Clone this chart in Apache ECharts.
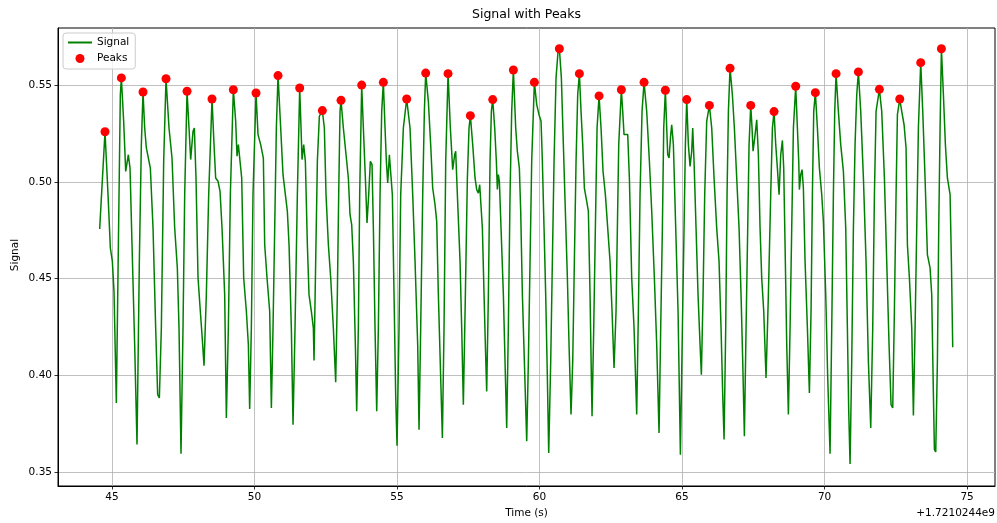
<!DOCTYPE html>
<html>
<head>
<meta charset="utf-8">
<title>Signal with Peaks</title>
<script src="https://cdn.jsdelivr.net/npm/echarts@6/dist/echarts.min.js"></script>
<style>
  html, body { margin: 0; padding: 0; background: #fff; }
  #chart { width: 997px; height: 523px; }
</style>
</head>
<body>
<div id="chart"></div>
<script>
// Time in seconds, relative to the offset shown under the x axis
const timeOffsetLabel = '+1.7210244e9';

const time = [
  44.567, 44.754, 44.860, 44.942, 45.012, 45.070, 45.152, 45.246, 45.292, 45.328,
  45.409, 45.480, 45.573, 45.632, 45.702, 45.795, 45.877, 45.959, 46.029, 46.088,
  46.146, 46.205, 46.275, 46.345, 46.439, 46.532, 46.602, 46.661, 46.731, 46.813,
  46.895, 47.000, 47.105, 47.199, 47.292, 47.351, 47.421, 47.491, 47.550, 47.632,
  47.702, 47.760, 47.842, 47.889, 47.947, 48.018, 48.099, 48.181, 48.228, 48.310,
  48.392, 48.509, 48.579, 48.637, 48.719, 48.790, 48.860, 48.953, 49.012, 49.082,
  49.152, 49.257, 49.339, 49.386, 49.433, 49.480, 49.550, 49.620, 49.714, 49.784,
  49.830, 49.889, 49.947, 50.053, 50.123, 50.216, 50.310, 50.357, 50.439, 50.532,
  50.591, 50.649, 50.708, 50.766, 50.825, 50.918, 51.000, 51.082, 51.152, 51.211,
  51.292, 51.351,
  51.421, 51.503, 51.585, 51.632, 51.667, 51.725, 51.784, 51.854, 51.912, 51.994,
  52.064, 52.088, 52.146, 52.205, 52.275, 52.380, 52.450, 52.509, 52.591, 52.673,
  52.766, 52.848, 52.906, 52.953, 53.000, 53.035, 53.117, 53.211, 53.292, 53.351,
  53.409, 53.468, 53.538, 53.585, 53.643, 53.690, 53.760, 53.819, 53.889, 53.947,
  54.006, 54.064, 54.123, 54.170, 54.228, 54.287, 54.345, 54.404, 54.462, 54.520,
  54.579, 54.626, 54.673, 54.731, 54.778, 54.836, 54.895, 54.953, 55.000, 55.070,
  55.129, 55.222, 55.339, 55.456, 55.550, 55.632, 55.725, 55.772, 55.830, 55.901,
  55.959, 56.006, 56.099, 56.181, 56.251, 56.333, 56.392, 56.450, 56.532, 56.591,
  56.649, 56.708, 56.790, 56.871, 56.953, 57.023, 57.058, 57.117, 57.211, 57.269,
  57.327, 57.398, 57.468, 57.526, 57.573, 57.655, 57.737, 57.795, 57.854, 57.901,
  57.936, 57.994, 58.053, 58.099, 58.146, 58.205, 58.263, 58.310, 58.357, 58.427,
  58.485, 58.520, 58.556, 58.591, 58.649, 58.731, 58.789, 58.848, 58.906, 58.965,
  59.023, 59.082, 59.164, 59.222, 59.292, 59.339, 59.398, 59.468, 59.550,
  59.608, 59.667, 59.725, 59.819, 59.901, 59.982, 60.053, 60.099, 60.158, 60.216,
  60.275, 60.322, 60.392, 60.450, 60.509, 60.579, 60.650, 60.696, 60.766, 60.836,
  60.906, 60.977, 61.035, 61.105, 61.164, 61.222, 61.281, 61.339, 61.398, 61.456,
  61.515, 61.573, 61.655, 61.713, 61.772, 61.819, 61.842, 61.901, 61.959, 62.018,
  62.088, 62.158, 62.228, 62.310, 62.392, 62.474, 62.544, 62.614, 62.684, 62.731,
  62.778, 62.871, 62.918, 62.965, 63.035, 63.094, 63.152, 63.234, 63.316, 63.409,
  63.468, 63.526, 63.596, 63.667, 63.760, 63.854, 63.936, 64.029, 64.111, 64.193,
  64.251, 64.310, 64.357, 64.415, 64.462, 64.497, 64.544, 64.602, 64.637, 64.696,
  64.778, 64.860, 64.942, 65.012, 65.070, 65.117, 65.164, 65.222, 65.281, 65.339,
  65.374, 65.421, 65.491, 65.561, 65.632, 65.678, 65.737, 65.795, 65.865, 65.959,
  66.041, 66.123, 66.216, 66.298, 66.368, 66.427, 66.474, 66.532, 66.579, 66.626,
  66.684, 66.766, 66.836, 66.918, 67.000, 67.070, 67.129, 67.187, 67.246, 67.304,
  67.351, 67.410, 67.456, 67.491, 67.550, 67.620,
  67.678, 67.737, 67.795, 67.866, 67.947, 68.029, 68.111, 68.170, 68.228, 68.287,
  68.345, 68.404, 68.462, 68.521, 68.567, 68.614, 68.673, 68.731, 68.790, 68.848,
  68.907, 68.988, 69.047, 69.094, 69.117, 69.164, 69.211, 69.257, 69.316, 69.398,
  69.468, 69.526, 69.573, 69.620, 69.678, 69.749, 69.819, 69.901, 69.959, 70.041,
  70.111, 70.193, 70.252, 70.310, 70.357, 70.404, 70.485, 70.567, 70.661, 70.743,
  70.801, 70.848, 70.895, 70.953, 71.012, 71.070, 71.129, 71.187, 71.269, 71.363,
  71.456, 71.538, 71.620, 71.690, 71.749, 71.807, 71.924, 72.006, 72.100, 72.181,
  72.263, 72.333, 72.392, 72.450, 72.509, 72.556, 72.638, 72.708, 72.790, 72.860,
  72.907, 72.977, 73.059, 73.117, 73.176, 73.234, 73.292, 73.374, 73.445, 73.526,
  73.608, 73.702, 73.760, 73.819, 73.854, 73.901, 73.959, 74.006, 74.053, 74.100,
  74.170, 74.240, 74.310, 74.404, 74.450, 74.497
];

const signal = [
  0.4756, 0.5259, 0.4934, 0.4658, 0.4589, 0.4434, 0.3857, 0.4934, 0.5450, 0.5537,
  0.5313, 0.5054, 0.5140, 0.5071, 0.4675, 0.4158, 0.3642, 0.4589, 0.5192, 0.5464,
  0.5278, 0.5175, 0.5175, 0.5071, 0.4761, 0.4244, 0.3900, 0.3883, 0.4244, 0.5106,
  0.5533, 0.5278, 0.5123, 0.4761, 0.4555, 0.4244, 0.3595, 0.4244, 0.4934, 0.5468,
  0.5278, 0.5115, 0.5261, 0.5278, 0.5020, 0.4503, 0.4331, 0.4158, 0.4050, 0.4417,
  0.4934, 0.5428, 0.5192, 0.5020, 0.5003, 0.4951, 0.4761, 0.4417, 0.3779, 0.4244,
  0.4934, 0.5476, 0.5313, 0.5132, 0.5192, 0.5201, 0.5020, 0.4503, 0.4331, 0.4158,
  0.3826, 0.4244, 0.4934, 0.5459, 0.5244, 0.5192, 0.5123, 0.4675, 0.4503, 0.4331,
  0.3831, 0.4244, 0.4761, 0.5278, 0.5549, 0.5278, 0.5037, 0.4934, 0.4848, 0.4675,
  0.4244, 0.3745,
  0.4245, 0.4934, 0.5485, 0.5278, 0.5115, 0.5192, 0.5106, 0.4675, 0.4417, 0.4331,
  0.4245, 0.4077, 0.4589, 0.5106, 0.5339, 0.5368, 0.5278, 0.4934, 0.4675, 0.4503,
  0.4245, 0.3964, 0.4417, 0.4934, 0.5364, 0.5421, 0.5278, 0.5140, 0.5020, 0.4830,
  0.4779, 0.4589, 0.4158, 0.3814, 0.4245, 0.4934, 0.5500, 0.5278, 0.5020, 0.4787,
  0.4934, 0.5106, 0.5089, 0.4761, 0.4245, 0.3814, 0.4245, 0.4934, 0.5364, 0.5514,
  0.5278, 0.5106, 0.4994, 0.5140, 0.5140, 0.4934, 0.4417, 0.3900, 0.3636, 0.4245,
  0.4934, 0.5278, 0.5428, 0.5278, 0.4934, 0.4589, 0.4158, 0.3719, 0.4245, 0.4934,
  0.5364, 0.5562, 0.5416, 0.5192, 0.4968, 0.4882, 0.4796, 0.4417, 0.3986, 0.3676,
  0.4245, 0.5106, 0.5559, 0.5278, 0.5063, 0.5140, 0.5158, 0.4934, 0.4589, 0.4245,
  0.3848, 0.4417, 0.5020, 0.5278, 0.5342, 0.5192, 0.5020, 0.4960, 0.4942, 0.4985,
  0.4994, 0.4761, 0.4417, 0.4158, 0.3917, 0.4417, 0.5106, 0.5364, 0.5425, 0.5278,
  0.5106, 0.4960, 0.5037, 0.5003, 0.4761, 0.4417, 0.4072, 0.3728, 0.4245, 0.4934,
  0.5364, 0.5578, 0.5278, 0.5158, 0.5071, 0.4848, 0.4417, 0.4072, 0.3659,
  0.4072, 0.4589, 0.5106, 0.5514, 0.5399, 0.5347, 0.5313, 0.5106, 0.4761, 0.4417,
  0.3986, 0.3599, 0.4072, 0.4589, 0.5106, 0.5537, 0.5675, 0.5688, 0.5537, 0.5192,
  0.4848, 0.4503, 0.4158, 0.3797, 0.4072, 0.4589, 0.5106, 0.5450, 0.5559, 0.5364,
  0.5192, 0.4968, 0.4899, 0.4848, 0.4417, 0.3986, 0.3788, 0.4245, 0.4761, 0.5278,
  0.5444, 0.5278, 0.5054, 0.4934, 0.4761, 0.4589, 0.4331, 0.4038, 0.4331, 0.4761,
  0.5192, 0.5476, 0.5364, 0.5244, 0.5252, 0.5244, 0.5020, 0.4503, 0.4245, 0.3797,
  0.4331, 0.4934, 0.5364, 0.5514, 0.5364, 0.5106, 0.4848, 0.4503, 0.4158, 0.3702,
  0.4245, 0.4761, 0.5278, 0.5473, 0.5278, 0.5140, 0.5123, 0.5244, 0.5295, 0.5192,
  0.4761, 0.4331, 0.3590, 0.4245, 0.4761, 0.5192, 0.5425, 0.5192, 0.5080, 0.5158,
  0.5278, 0.5106, 0.4761, 0.4417, 0.4158, 0.4003, 0.4417, 0.4934, 0.5313, 0.5395,
  0.5278, 0.5020, 0.4761, 0.4589, 0.4245, 0.3900, 0.3668, 0.4245, 0.4934, 0.5364,
  0.5587, 0.5450, 0.5278, 0.5020, 0.4761, 0.4417, 0.4072, 0.3685, 0.4245, 0.4761,
  0.5192, 0.5395, 0.5278, 0.5158, 0.5227, 0.5321,
  0.5140, 0.4761, 0.4503, 0.4331, 0.3986, 0.4417, 0.4934, 0.5278, 0.5363, 0.5192,
  0.5071, 0.4934, 0.5140, 0.5214, 0.5071, 0.4675, 0.4158, 0.3797, 0.4245, 0.4761,
  0.5278, 0.5494, 0.5278, 0.5106, 0.4960, 0.5037, 0.5063, 0.4968, 0.4589, 0.4245,
  0.3909, 0.4331, 0.4934, 0.5364, 0.5461, 0.5278, 0.5071, 0.4934, 0.4796, 0.4417,
  0.3986, 0.3595, 0.4245, 0.4934, 0.5364, 0.5559, 0.5364, 0.5192, 0.5054, 0.4761,
  0.4245, 0.3814, 0.3542, 0.4072, 0.4761, 0.5192, 0.5450, 0.5568, 0.5364, 0.5020,
  0.4589, 0.4072, 0.3728, 0.4245, 0.4934, 0.5364, 0.5478, 0.5364, 0.5020, 0.4589,
  0.4158, 0.3848, 0.3831, 0.4331, 0.4934, 0.5347, 0.5428, 0.5364, 0.5295, 0.5175,
  0.4675, 0.4503, 0.4245, 0.3792, 0.4245, 0.4761, 0.5278, 0.5616, 0.5364, 0.5020,
  0.4624, 0.4555, 0.4417, 0.3900, 0.3616, 0.3604, 0.4072, 0.4761, 0.5278, 0.5688,
  0.5450, 0.5192, 0.5020, 0.4934, 0.4589, 0.4145
];

// Detected peaks
const peakTime = [
  44.754, 45.328, 46.088, 46.895, 47.632, 48.509, 49.257, 50.053, 50.825, 51.585,
  52.380, 53.035, 53.760, 54.520, 55.339, 56.006, 56.790, 57.573, 58.357, 59.082,
  59.819, 60.696, 61.398, 62.088, 62.871, 63.667, 64.415, 65.164, 65.959, 66.684,
  67.410, 68.228, 68.988, 69.678, 70.404, 71.187, 71.924, 72.638, 73.374, 74.100
];
const peakSignal = [
  0.5259, 0.5537, 0.5464, 0.5533, 0.5468, 0.5428, 0.5476, 0.5459, 0.5549, 0.5485,
  0.5368, 0.5421, 0.5500, 0.5514, 0.5428, 0.5562, 0.5559, 0.5342, 0.5425, 0.5578,
  0.5514, 0.5688, 0.5559, 0.5444, 0.5476, 0.5514, 0.5473, 0.5425, 0.5395, 0.5587,
  0.5395, 0.5363, 0.5494, 0.5461, 0.5559, 0.5568, 0.5478, 0.5428, 0.5616, 0.5688
];

const xTicks = [45, 50, 55, 60, 65, 70, 75];
const yTicks = [0.35, 0.40, 0.45, 0.50, 0.55];

const FONT = 'DejaVu Sans';
const chart = echarts.init(document.getElementById('chart'), null, { renderer: 'canvas' });

const gridBox = { left: 58, top: 28, right: 2, bottom: 37 };
const plotCenterX = gridBox.left + (997 - gridBox.left - gridBox.right) / 2;

chart.setOption({
  animation: false,
  backgroundColor: '#ffffff',
  grid: {
    left: gridBox.left, top: gridBox.top, right: gridBox.right, bottom: gridBox.bottom,
    show: true, borderColor: '#000', borderWidth: 1, backgroundColor: 'transparent'
  },
  legend: {
    orient: 'vertical',
    left: 63, top: 33,
    padding: [4, 6, 5, 4],
    itemGap: 5,
    itemWidth: 24, itemHeight: 9,
    backgroundColor: 'rgba(255,255,255,0.8)',
    borderColor: '#cccccc', borderWidth: 1, borderRadius: 3,
    textStyle: { fontFamily: FONT, fontSize: 10.5, color: '#000' },
    data: [
      { name: 'Signal', itemStyle: { opacity: 0 } },
      { name: 'Peaks' }
    ]
  },
  xAxis: {
    type: 'value',
    min: 43.105, max: 75.98,
    splitNumber: 6,
    axisLine: { show: true, onZero: false, lineStyle: { color: '#000', width: 1 } },
    axisTick: { show: true, length: 3.5, customValues: xTicks, lineStyle: { color: '#000', width: 0.8 } },
    axisLabel: {
      customValues: xTicks, margin: 6,
      fontFamily: FONT, fontSize: 10.5, color: '#000',
      formatter: v => String(v)
    },
    splitLine: { show: true, lineStyle: { color: '#b0b0b0', width: 0.8 } }
  },
  yAxis: {
    type: 'value',
    min: 0.3428, max: 0.5795,
    splitNumber: 5,
    axisLine: { show: true, onZero: false, lineStyle: { color: '#000', width: 1 } },
    axisTick: { show: true, length: 3.5, customValues: yTicks, lineStyle: { color: '#000', width: 0.8 } },
    axisLabel: {
      customValues: yTicks, margin: 6,
      fontFamily: FONT, fontSize: 10.5, color: '#000',
      formatter: v => v.toFixed(2)
    },
    splitLine: { show: true, lineStyle: { color: '#b0b0b0', width: 0.8 } }
  },
  series: [
    {
      name: 'Signal',
      type: 'line',
      data: time.map((t, i) => [t, signal[i]]),
      symbol: 'none',
      smooth: false,
      color: '#008000',
      lineStyle: { color: '#008000', width: 1.5 },
      z: 2
    },
    {
      name: 'Peaks',
      type: 'scatter',
      data: peakTime.map((t, i) => [t, peakSignal[i]]),
      symbol: 'circle',
      symbolSize: 9,
      itemStyle: { color: '#ff0000', opacity: 1 },
      z: 3
    }
  ],
  graphic: [
    {
      type: 'text', x: plotCenterX, y: 15,
      style: { text: 'Signal with Peaks', fontFamily: FONT, fontSize: 12.5, fill: '#000', align: 'center', verticalAlign: 'middle' }
    },
    {
      type: 'text', x: plotCenterX, y: 513,
      style: { text: 'Time (s)', fontFamily: FONT, fontSize: 10.5, fill: '#000', align: 'center', verticalAlign: 'middle' }
    },
    {
      type: 'text', x: 15, y: 255, rotation: Math.PI / 2,
      style: { text: 'Signal', fontFamily: FONT, fontSize: 10.5, fill: '#000', align: 'center', verticalAlign: 'middle' }
    },
    {
      type: 'text', x: 995, y: 513,
      style: { text: timeOffsetLabel, fontFamily: FONT, fontSize: 10.5, fill: '#000', align: 'right', verticalAlign: 'middle' }
    }
  ]
});
</script>
</body>
</html>
